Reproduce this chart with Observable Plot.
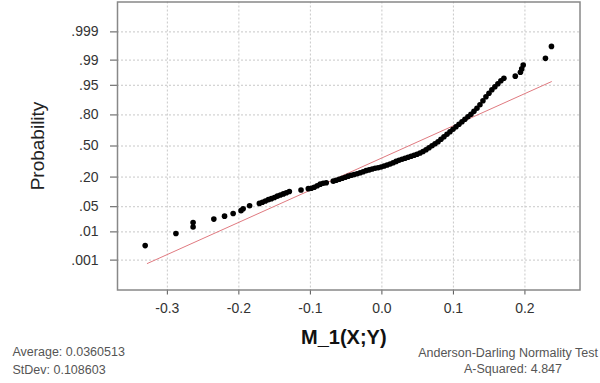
<!DOCTYPE html>
<html>
<head>
<meta charset="utf-8">
<script src="https://cdn.jsdelivr.net/npm/d3@7"></script>
<script src="https://cdn.jsdelivr.net/npm/@observablehq/plot@0.6"></script>
<style>
  html, body { margin: 0; padding: 0; background: #fff; }
</style>
</head>
<body>
<div id="chart"></div>
<script>
// ---- data ----
const xValues = [
  -0.331, -0.288, -0.264, -0.264, -0.235, -0.220, -0.208, -0.197, -0.194, -0.185,
  -0.1713, -0.1671, -0.1629, -0.1587, -0.1545, -0.1503, -0.1462, -0.1420, -0.1378, -0.1336,
  -0.1294, -0.1131,
  -0.1029, -0.0987, -0.0946, -0.0904, -0.0862, -0.0820, -0.0778,
  -0.0680, -0.0639, -0.0597, -0.0555, -0.0513, -0.0471, -0.0429, -0.0388, -0.0346, -0.0304,
  -0.0262, -0.0220, -0.0178, -0.0136, -0.0095, -0.0053, -0.0011, 0.0031, 0.0073, 0.0115,
  0.0157, 0.0199, 0.0240, 0.0282, 0.0324, 0.0366, 0.0408, 0.0450, 0.0491, 0.0533,
  0.0575, 0.0617, 0.0659, 0.0701, 0.0743, 0.0785, 0.0826, 0.0868, 0.0910, 0.0952,
  0.0994, 0.1036, 0.1078, 0.1120, 0.1161, 0.1203, 0.1245, 0.1287, 0.1329, 0.1371,
  0.1413, 0.1455, 0.1497, 0.1538, 0.1580, 0.1622, 0.1664, 0.1706,
  0.1865, 0.1937, 0.1955, 0.1976, 0.2287, 0.2371
];
const probValues = [
  0.0035, 0.0089, 0.0192, 0.0141, 0.0239, 0.0287, 0.0337, 0.040, 0.0446, 0.053,
  0.0601, 0.0640, 0.0681, 0.0731, 0.0769, 0.0814, 0.0872, 0.0923, 0.0972, 0.1030,
  0.1091, 0.1167,
  0.1240, 0.1266, 0.1322, 0.1412, 0.1507, 0.1569, 0.1600,
  0.1704, 0.1772, 0.1841, 0.1916, 0.1991, 0.2069, 0.2146, 0.2203, 0.2266, 0.2348,
  0.2433, 0.2520, 0.2588, 0.2669, 0.2737, 0.2784, 0.2849, 0.2941, 0.3034, 0.3128,
  0.3255, 0.3385, 0.3502, 0.3604, 0.3705, 0.3806, 0.3914, 0.4018, 0.4122, 0.4247,
  0.4408, 0.4602, 0.4817, 0.5032, 0.5247, 0.5465, 0.5730, 0.5994, 0.6254, 0.6509,
  0.6753, 0.6994, 0.7226, 0.7448, 0.7658, 0.7863, 0.8053, 0.8268, 0.8468, 0.8682,
  0.8900, 0.9090, 0.9235, 0.9363, 0.9459, 0.9542, 0.9615, 0.9668,
  0.9707, 0.977, 0.9816, 0.9859, 0.9912, 0.9965
];
const fitX = [-0.328, 0.237];
const fitProb = [0.00073, 0.9593];

const xTicks = [-0.3, -0.2, -0.1, 0.0, 0.1, 0.2];
const probTicks = [0.001, 0.01, 0.05, 0.20, 0.50, 0.80, 0.95, 0.99, 0.999];
const probLabels = [".001", ".01", ".05", ".20", ".50", ".80", ".95", ".99", ".999"];

const yTitle = "Probability";
const xTitle = "M_1(X;Y)";
const statsLeft = ["Average: 0.0360513", "StDev: 0.108603"];
const statsRight = ["Anderson-Darling Normality Test", "A-Squared: 4.847"];

// ---- normal probability scale (inverse normal CDF, Acklam) ----
function probit(p) {
  const a = [-3.969683028665376e+01, 2.209460984245205e+02, -2.759285104469687e+02, 1.383577518672690e+02, -3.066479806614716e+01, 2.506628277459239e+00];
  const b = [-5.447609879822406e+01, 1.615858368580409e+02, -1.556989798598866e+02, 6.680131188771972e+01, -1.328068155288572e+01];
  const c = [-7.784894002430293e-03, -3.223964580411365e-01, -2.400758277161838e+00, -2.549732539343734e+00, 4.374664141464968e+00, 2.938163982698783e+00];
  const d = [7.784695709041462e-03, 3.224671290700398e-01, 2.445134137142996e+00, 3.754408661907416e+00];
  const plow = 0.02425, phigh = 1 - plow;
  let q, r;
  if (p < plow) {
    q = Math.sqrt(-2 * Math.log(p));
    return (((((c[0]*q+c[1])*q+c[2])*q+c[3])*q+c[4])*q+c[5]) / ((((d[0]*q+d[1])*q+d[2])*q+d[3])*q+1);
  }
  if (p > phigh) {
    q = Math.sqrt(-2 * Math.log(1 - p));
    return -(((((c[0]*q+c[1])*q+c[2])*q+c[3])*q+c[4])*q+c[5]) / ((((d[0]*q+d[1])*q+d[2])*q+d[3])*q+1);
  }
  q = p - 0.5; r = q * q;
  return (((((a[0]*r+a[1])*r+a[2])*r+a[3])*r+a[4])*r+a[5])*q / (((((b[0]*r+b[1])*r+b[2])*r+b[3])*r+b[4])*r+1);
}

const points = xValues.map((x, i) => ({x, z: probit(probValues[i])}));
const fit = fitX.map((x, i) => ({x, z: probit(fitProb[i])}));
const zTicks = probTicks.map(probit);
const labelOf = new Map(zTicks.map((z, i) => [z, probLabels[i]]));

const font = "'Liberation Sans', Arial, Helvetica, sans-serif";

const chart = Plot.plot({
  width: 600,
  height: 383,
  marginLeft: 117,
  marginRight: 20.5,
  marginTop: 1.5,
  marginBottom: 93.5,
  style: {fontFamily: font, background: "#fff", color: "#222"},
  x: {domain: [-0.3697, 0.277]},
  y: {domain: [-3.9, 3.9]},
  marks: [
    Plot.gridX(xTicks, {stroke: "#c8c8c8", strokeOpacity: 1, strokeDasharray: "2,2"}),
    Plot.gridY(zTicks, {stroke: "#c8c8c8", strokeOpacity: 1, strokeDasharray: "2,2"}),
    Plot.axisX(xTicks, {tickSize: 5, tickPadding: 8, fontSize: 14, stroke: "#555", fill: "#333",
      tickFormat: d => d.toFixed(1), label: null}),
    Plot.axisY(zTicks, {tickSize: 7, tickPadding: 12, fontSize: 14, stroke: "#555", fill: "#333",
      tickFormat: d => labelOf.get(d), label: null}),
    Plot.frame({stroke: "#888", strokeWidth: 1.5}),
    Plot.line(fit, {x: "x", y: "z", stroke: "#e07a80", strokeWidth: 1}),
    Plot.dot(points, {x: "x", y: "z", r: 2.8, fill: "#000", stroke: "none"}),
    Plot.text([yTitle], {frameAnchor: "left", textAnchor: "middle", dx: -80, rotate: -90, fontSize: 19, fill: "#222"}),
    Plot.text([xTitle], {frameAnchor: "bottom", dx: -5, dy: 54, fontSize: 20, fontWeight: "bold", fill: "#111"}),
    Plot.text([statsLeft[0]], {frameAnchor: "bottom-left", dx: -105, dy: 66, textAnchor: "start", fontSize: 12.5, fill: "#555"}),
    Plot.text([statsLeft[1]], {frameAnchor: "bottom-left", dx: -105, dy: 84, textAnchor: "start", fontSize: 12.5, fill: "#555"}),
    Plot.text([statsRight[0]], {frameAnchor: "bottom-right", dx: -72, dy: 67, textAnchor: "middle", fontSize: 12.5, fill: "#555"}),
    Plot.text([statsRight[1]], {frameAnchor: "bottom-right", dx: -67, dy: 83, textAnchor: "middle", fontSize: 12.5, fill: "#555"})
  ]
});
document.getElementById("chart").append(chart);
</script>
</body>
</html>
